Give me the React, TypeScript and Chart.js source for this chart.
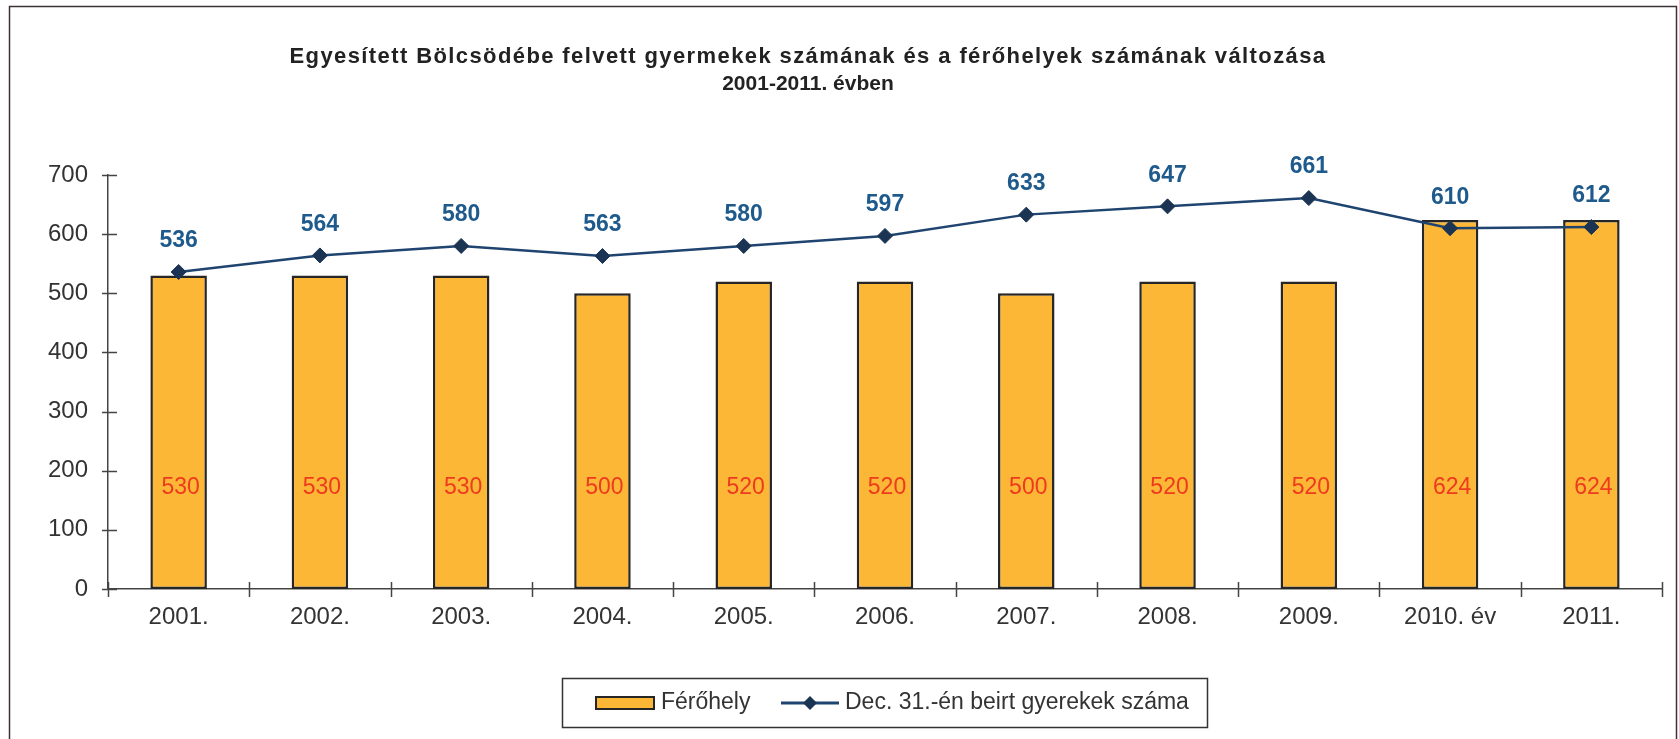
import React, { useEffect, useRef } from "react";
import { Chart, registerables } from "chart.js";

Chart.register(...registerables);

const categories = ["2001.", "2002.", "2003.", "2004.", "2005.", "2006.", "2007.", "2008.", "2009.", "2010. év", "2011."];
const ferohely = [530, 530, 530, 500, 520, 520, 500, 520, 520, 624, 624];
const gyerekek = [536, 564, 580, 563, 580, 597, 633, 647, 661, 610, 612];
const titleLines = [
  "Egyesített Bölcsödébe felvett gyermekek számának és a férőhelyek számának változása",
  "2001-2011. évben",
];
const legendLabels = ["Férőhely", "Dec. 31.-én beirt gyerekek száma"];

const FONT = "'Liberation Sans', Arial, sans-serif";
const BAR_COLOR = "#FBB735";
const BAR_BORDER = "#262626";
const LINE_COLOR = "#1F4470";
const POINT_COLOR = "#1B3454";
const LABEL_BLUE = "#1F5A8C";
const LABEL_RED = "#EE3A1E";
const AXIS = "#444";

const decor = {
  id: "decor",
  beforeDraw(chart: any) {
    const ctx = chart.ctx;
    ctx.save();
    ctx.fillStyle = "#fff";
    ctx.fillRect(0, 0, chart.width, chart.height);
    ctx.restore();
  },
  afterDatasetsDraw(chart: any) {
    const ctx = chart.ctx;
    const y = chart.scales.y;
    ctx.save();
    const barMeta = chart.getDatasetMeta(0);
    ctx.font = `23px ${FONT}`;
    ctx.fillStyle = LABEL_RED;
    ctx.textAlign = "center";
    ctx.textBaseline = "middle";
    barMeta.data.forEach((el: any, i: number) => {
      ctx.fillText(String(ferohely[i]), el.x + 2, y.getPixelForValue(172));
    });
    const lineMeta = chart.getDatasetMeta(1);
    ctx.font = `bold 23px ${FONT}`;
    ctx.fillStyle = LABEL_BLUE;
    lineMeta.data.forEach((el: any, i: number) => {
      ctx.fillText(String(gyerekek[i]), el.x, el.y - 31);
    });
    ctx.restore();
  },
  afterDraw(chart: any) {
    const ctx = chart.ctx;
    const x = chart.scales.x;
    const y = chart.scales.y;
    ctx.save();
    ctx.strokeStyle = AXIS;
    ctx.lineWidth = 1.5;
    ctx.beginPath();
    y.ticks.forEach((t: any) => {
      const py = Math.round(y.getPixelForValue(t.value)) + 0.5;
      ctx.moveTo(x.left - 6, py);
      ctx.lineTo(x.left + 9, py);
    });
    const n = categories.length;
    for (let i = 0; i <= n; i++) {
      let px;
      if (i === 0) px = x.left;
      else if (i === n) px = x.right;
      else px = (x.getPixelForValue(i - 1) + x.getPixelForValue(i)) / 2;
      px = Math.round(px) + 0.5;
      ctx.moveTo(px, y.bottom - 7);
      ctx.lineTo(px, y.bottom + 8);
    }
    ctx.stroke();

    ctx.strokeStyle = "#3a3035";
    ctx.lineWidth = 1.5;
    ctx.strokeRect(9.5, 6.5, 1667, 760);

    ctx.fillStyle = "#222";
    ctx.textAlign = "center";
    ctx.textBaseline = "middle";
    ctx.font = `bold 22px ${FONT}`;
    (ctx as any).letterSpacing = "1.4px";
    ctx.fillText(titleLines[0], 808, 57);
    (ctx as any).letterSpacing = "0px";
    ctx.font = `bold 21px ${FONT}`;
    ctx.fillText(titleLines[1], 808, 84);

    ctx.strokeStyle = "#333";
    ctx.lineWidth = 1.5;
    ctx.strokeRect(562.5, 678.5, 645, 49);
    const ly = 703;
    ctx.fillStyle = BAR_COLOR;
    ctx.fillRect(596, 697, 58, 12);
    ctx.strokeStyle = BAR_BORDER;
    ctx.lineWidth = 2;
    ctx.strokeRect(596, 697, 58, 12);
    ctx.fillStyle = "#333";
    ctx.font = `23px ${FONT}`;
    ctx.textAlign = "left";
    ctx.fillText(legendLabels[0], 661, ly);
    ctx.strokeStyle = LINE_COLOR;
    ctx.lineWidth = 3;
    ctx.beginPath();
    ctx.moveTo(781, ly);
    ctx.lineTo(839, ly);
    ctx.stroke();
    ctx.fillStyle = POINT_COLOR;
    ctx.beginPath();
    ctx.moveTo(810, ly - 7);
    ctx.lineTo(817, ly);
    ctx.lineTo(810, ly + 7);
    ctx.lineTo(803, ly);
    ctx.closePath();
    ctx.fill();
    ctx.fillStyle = "#333";
    ctx.fillText(legendLabels[1], 845, ly);
    ctx.restore();
  },
};

export default function App() {
  const ref = useRef<HTMLCanvasElement>(null);
  useEffect(() => {
    const chart = new Chart(ref.current as HTMLCanvasElement, {
      type: "bar",
      data: {
        labels: categories,
        datasets: [
          {
            type: "bar",
            label: legendLabels[0],
            data: ferohely,
            backgroundColor: BAR_COLOR,
            borderColor: BAR_BORDER,
            borderWidth: 2.5,
            borderSkipped: false,
            barPercentage: 0.4,
            categoryPercentage: 1,
            order: 1,
          },
          {
            type: "line",
            label: legendLabels[1],
            data: gyerekek,
            borderColor: LINE_COLOR,
            borderWidth: 2.5,
            pointStyle: "rectRot",
            pointRadius: 7.5,
            pointBackgroundColor: POINT_COLOR,
            pointBorderColor: POINT_COLOR,
            pointBorderWidth: 1,
            tension: 0,
            order: 0,
          },
        ],
      },
      options: {
        responsive: false,
        animation: false,
        devicePixelRatio: 1,
        layout: { padding: { left: 0, right: 17, top: 175, bottom: 100 } },
        plugins: {
          legend: { display: false },
          title: { display: false },
          tooltip: { enabled: false },
        },
        scales: {
          x: {
            grid: { display: false, drawTicks: false },
            border: { display: true, color: AXIS, width: 1.5 },
            ticks: { color: "#333", font: { family: FONT, size: 24 }, padding: 14, maxRotation: 0, autoSkip: false },
            afterFit: (s: any) => { s.height = 50; },
          },
          y: {
            min: 0,
            max: 700,
            grid: { display: false, drawTicks: false },
            border: { display: true, color: AXIS, width: 1.5 },
            ticks: { stepSize: 100, color: "#333", font: { family: FONT, size: 24 }, padding: 20 },
            afterFit: (s: any) => { s.width = 108; },
          },
        },
      },
      plugins: [decor],
    });
    return () => chart.destroy();
  }, []);
  return (
    <div style={{ position: "fixed", left: 0, top: 0, width: 1679, height: 739, background: "#fff" }}>
      <canvas ref={ref} width={1679} height={739} style={{ width: 1679, height: 739, display: "block" }} />
    </div>
  );
}
